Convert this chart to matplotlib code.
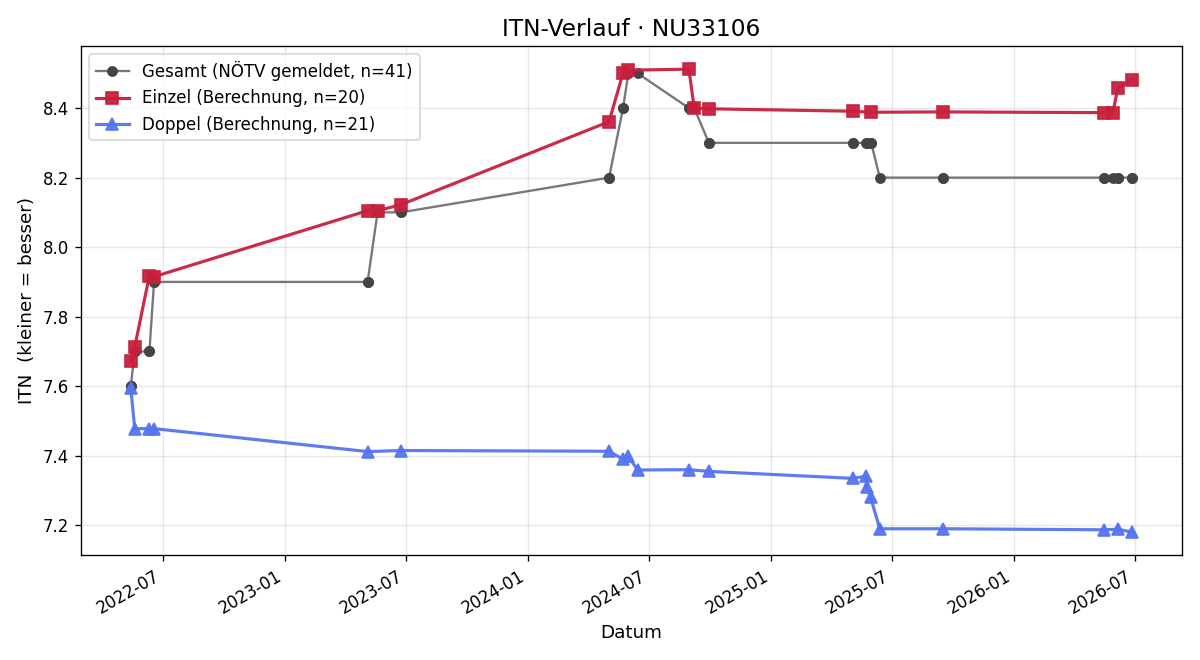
import pandas as pd
import matplotlib
matplotlib.use("Agg")
import matplotlib.pyplot as plt
import matplotlib.dates as mdates

# Einzel (calculated singles ITN)
einzel_dates = ["2022-05-14", "2022-05-20", "2022-06-11", "2022-06-18",
                "2023-05-05", "2023-05-20", "2023-06-24", "2024-05-02",
                "2024-05-23", "2024-05-31", "2024-08-30", "2024-09-07",
                "2024-09-29", "2025-05-03", "2025-05-31", "2025-09-16",
                "2026-05-16", "2026-05-29", "2026-06-06", "2026-06-27"]
einzel_itn = [7.672, 7.713, 7.918, 7.915, 8.105, 8.105, 8.122, 8.361,
              8.501, 8.509, 8.512, 8.400, 8.398, 8.391, 8.388, 8.389,
              8.387, 8.385, 8.458, 8.482]

# Doppel (calculated doubles ITN)
doppel_dates = ["2022-05-14", "2022-05-20", "2022-06-11", "2022-06-18",
                "2023-05-05", "2023-06-24", "2024-05-02", "2024-05-23",
                "2024-05-31", "2024-06-14", "2024-08-30", "2024-09-29",
                "2025-05-03", "2025-05-23", "2025-05-24", "2025-05-30",
                "2025-06-13", "2025-09-16", "2026-05-16", "2026-06-06",
                "2026-06-27"]
doppel_itn = [7.595, 7.478, 7.478, 7.478, 7.412, 7.415, 7.413, 7.390,
              7.398, 7.359, 7.360, 7.355, 7.335, 7.341, 7.310, 7.281,
              7.190, 7.190, 7.187, 7.189, 7.180]

# Gesamt (reported by NÖTV) - one entry per match
gesamt_dates = sorted(einzel_dates + doppel_dates)
gesamt_itn = [7.6, 7.6, 7.7, 7.7, 7.7, 7.7, 7.9, 7.9, 7.9, 7.9,
              8.1, 8.1, 8.1, 8.2, 8.2, 8.4, 8.4, 8.5, 8.5, 8.5,
              8.4, 8.4, 8.4, 8.3, 8.3, 8.3, 8.3, 8.3, 8.3, 8.3,
              8.3, 8.2, 8.2, 8.2, 8.2, 8.2, 8.2, 8.2, 8.2, 8.2, 8.2]


def main():
    g_dates = pd.to_datetime(gesamt_dates)
    e_dates = pd.to_datetime(einzel_dates)
    d_dates = pd.to_datetime(doppel_dates)

    fig, ax = plt.subplots(figsize=(10, 5.5), dpi=120)

    ax.plot(g_dates, gesamt_itn, color="#777777", lw=1.4, marker="o",
            ms=5.5, mfc="#444444", mec="#444444",
            label=f"Gesamt (NÖTV gemeldet, n={len(gesamt_itn)})")
    ax.plot(e_dates, einzel_itn, color="#c81f3c", lw=1.9, marker="s",
            ms=7, alpha=0.95,
            label=f"Einzel (Berechnung, n={len(einzel_itn)})")
    ax.plot(d_dates, doppel_itn, color="#5575f0", lw=1.9, marker="^",
            ms=7, alpha=0.95,
            label=f"Doppel (Berechnung, n={len(doppel_itn)})")

    ax.xaxis.set_major_locator(mdates.MonthLocator(bymonth=[1, 7]))
    ax.xaxis.set_major_formatter(mdates.DateFormatter("%Y-%m"))
    fig.autofmt_xdate()

    ax.set_title("ITN-Verlauf · NU33106", fontsize=14)
    ax.set_xlabel("Datum", fontsize=11)
    ax.set_ylabel("ITN  (kleiner = besser)", fontsize=11)
    ax.grid(True, alpha=0.3)
    ax.legend(loc="upper left", fontsize=10)

    fig.tight_layout()
    fig.savefig("out.png")


if __name__ == "__main__":
    main()
